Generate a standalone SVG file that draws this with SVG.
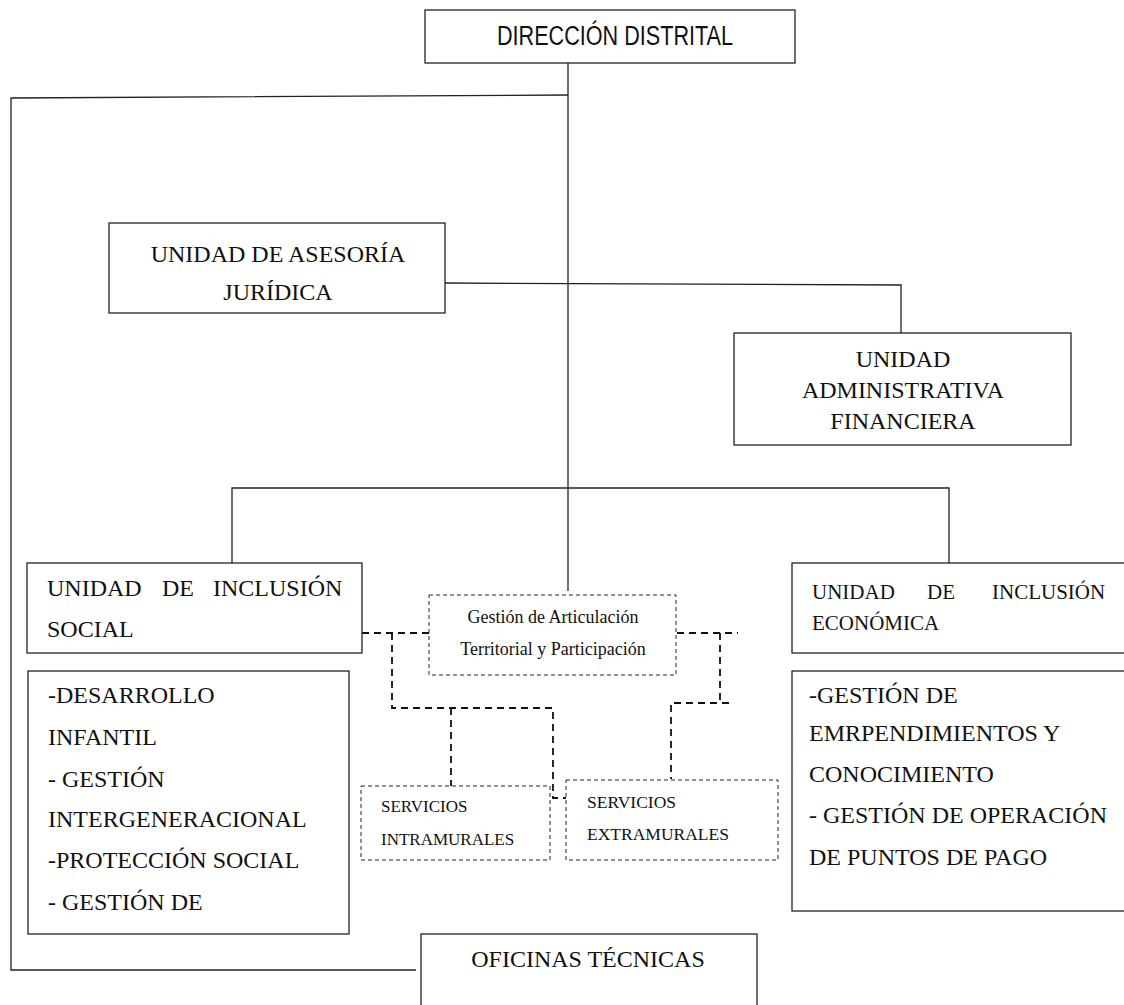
<svg xmlns="http://www.w3.org/2000/svg" width="1124" height="1005" viewBox="0 0 1124 1005">
<style>
.box{fill:#fff;stroke:#222;stroke-width:1.3}
.dbox{fill:#fff;stroke:#222;stroke-width:1;stroke-dasharray:4 3}
.ln{fill:none;stroke:#222;stroke-width:1.3}
.dl{fill:none;stroke:#111;stroke-width:1.8;stroke-dasharray:7 5}
.serif{font-family:"Liberation Serif","Times New Roman",serif;fill:#111}
.sans{font-family:"Liberation Sans",Arial,sans-serif;fill:#111}
</style>
<rect width="1124" height="1005" fill="#fff"/>
<g id="connectors">
<polyline class="ln" points="568,63 568,591"/>
<polyline class="ln" points="568,95 11,98 11,970 416,970"/>
<polyline class="ln" points="445,283 901,285 901,333"/>
<polyline class="ln" points="232,563 232,488 949,488 949,563"/>
<polyline class="dl" points="362,633 429,633"/>
<polyline class="dl" points="392,633 392,708 553,708 553,798 578,798"/>
<polyline class="dl" points="451,708 451,786"/>
<polyline class="dl" points="677,633 738,633"/>
<polyline class="dl" points="720,633 720,703"/>
<polyline class="dl" points="729,703 671,703 671,779"/>
</g>
<g id="direccion">
<rect class="box" x="425" y="10" width="370" height="53"/>
<text class="sans" x="497" y="45" font-size="27" textLength="236" lengthAdjust="spacingAndGlyphs">DIRECCIÓN DISTRITAL</text>
</g>
<g id="asesoria" class="serif" font-size="24">
<rect class="box" x="109" y="223" width="336" height="90"/>
<text x="278" y="262" text-anchor="middle">UNIDAD DE ASESORÍA</text>
<text x="278" y="300" text-anchor="middle">JURÍDICA</text>
</g>
<g id="administrativa" class="serif" font-size="24">
<rect class="box" x="734" y="333" width="337" height="112"/>
<text x="903" y="367" text-anchor="middle">UNIDAD</text>
<text x="903" y="398" text-anchor="middle">ADMINISTRATIVA</text>
<text x="903" y="429" text-anchor="middle">FINANCIERA</text>
</g>
<g id="inclusion-social" class="serif" font-size="24">
<rect class="box" x="27" y="563" width="335" height="90"/>
<text y="596"><tspan x="47">UNIDAD</tspan><tspan x="162">DE</tspan><tspan x="213">INCLUSIÓN</tspan></text>
<text x="47" y="637">SOCIAL</text>
</g>
<g id="gestion-articulacion" class="serif" font-size="18">
<rect class="dbox" x="429" y="595" width="247" height="80"/>
<text x="553" y="623" text-anchor="middle">Gestión de Articulación</text>
<text x="553" y="655" text-anchor="middle">Territorial y Participación</text>
</g>
<g id="inclusion-economica" class="serif" font-size="21">
<rect class="box" x="792" y="563" width="340" height="90"/>
<text y="599"><tspan x="812">UNIDAD</tspan><tspan x="927">DE</tspan><tspan x="992">INCLUSIÓN</tspan></text>
<text x="812" y="630">ECONÓMICA</text>
</g>
<g id="lista-social" class="serif" font-size="24">
<rect class="box" x="28" y="671" width="321" height="263"/>
<text x="48" y="703">-DESARROLLO</text>
<text x="48" y="745">INFANTIL</text>
<text x="48" y="787">- GESTIÓN</text>
<text x="48" y="827">INTERGENERACIONAL</text>
<text x="48" y="868">-PROTECCIÓN SOCIAL</text>
<text x="48" y="910">- GESTIÓN DE</text>
</g>
<g id="lista-economica" class="serif" font-size="24">
<rect class="box" x="792" y="671" width="340" height="240"/>
<text x="809" y="703">-GESTIÓN DE</text>
<text x="809" y="741">EMRPENDIMIENTOS Y</text>
<text x="809" y="782">CONOCIMIENTO</text>
<text x="809" y="823">- GESTIÓN DE OPERACIÓN</text>
<text x="809" y="865">DE PUNTOS DE PAGO</text>
</g>
<g id="intramurales" class="serif" font-size="17">
<rect class="dbox" x="361" y="786" width="189" height="74"/>
<text x="381" y="812">SERVICIOS</text>
<text x="381" y="845">INTRAMURALES</text>
</g>
<g id="extramurales" class="serif" font-size="17.5">
<rect class="dbox" x="566" y="780" width="212" height="80"/>
<text x="587" y="808">SERVICIOS</text>
<text x="587" y="840">EXTRAMURALES</text>
</g>
<g id="oficinas" class="serif" font-size="24">
<rect class="box" x="421" y="934" width="336" height="90"/>
<text x="588" y="967" text-anchor="middle">OFICINAS TÉCNICAS</text>
</g>
</svg>
